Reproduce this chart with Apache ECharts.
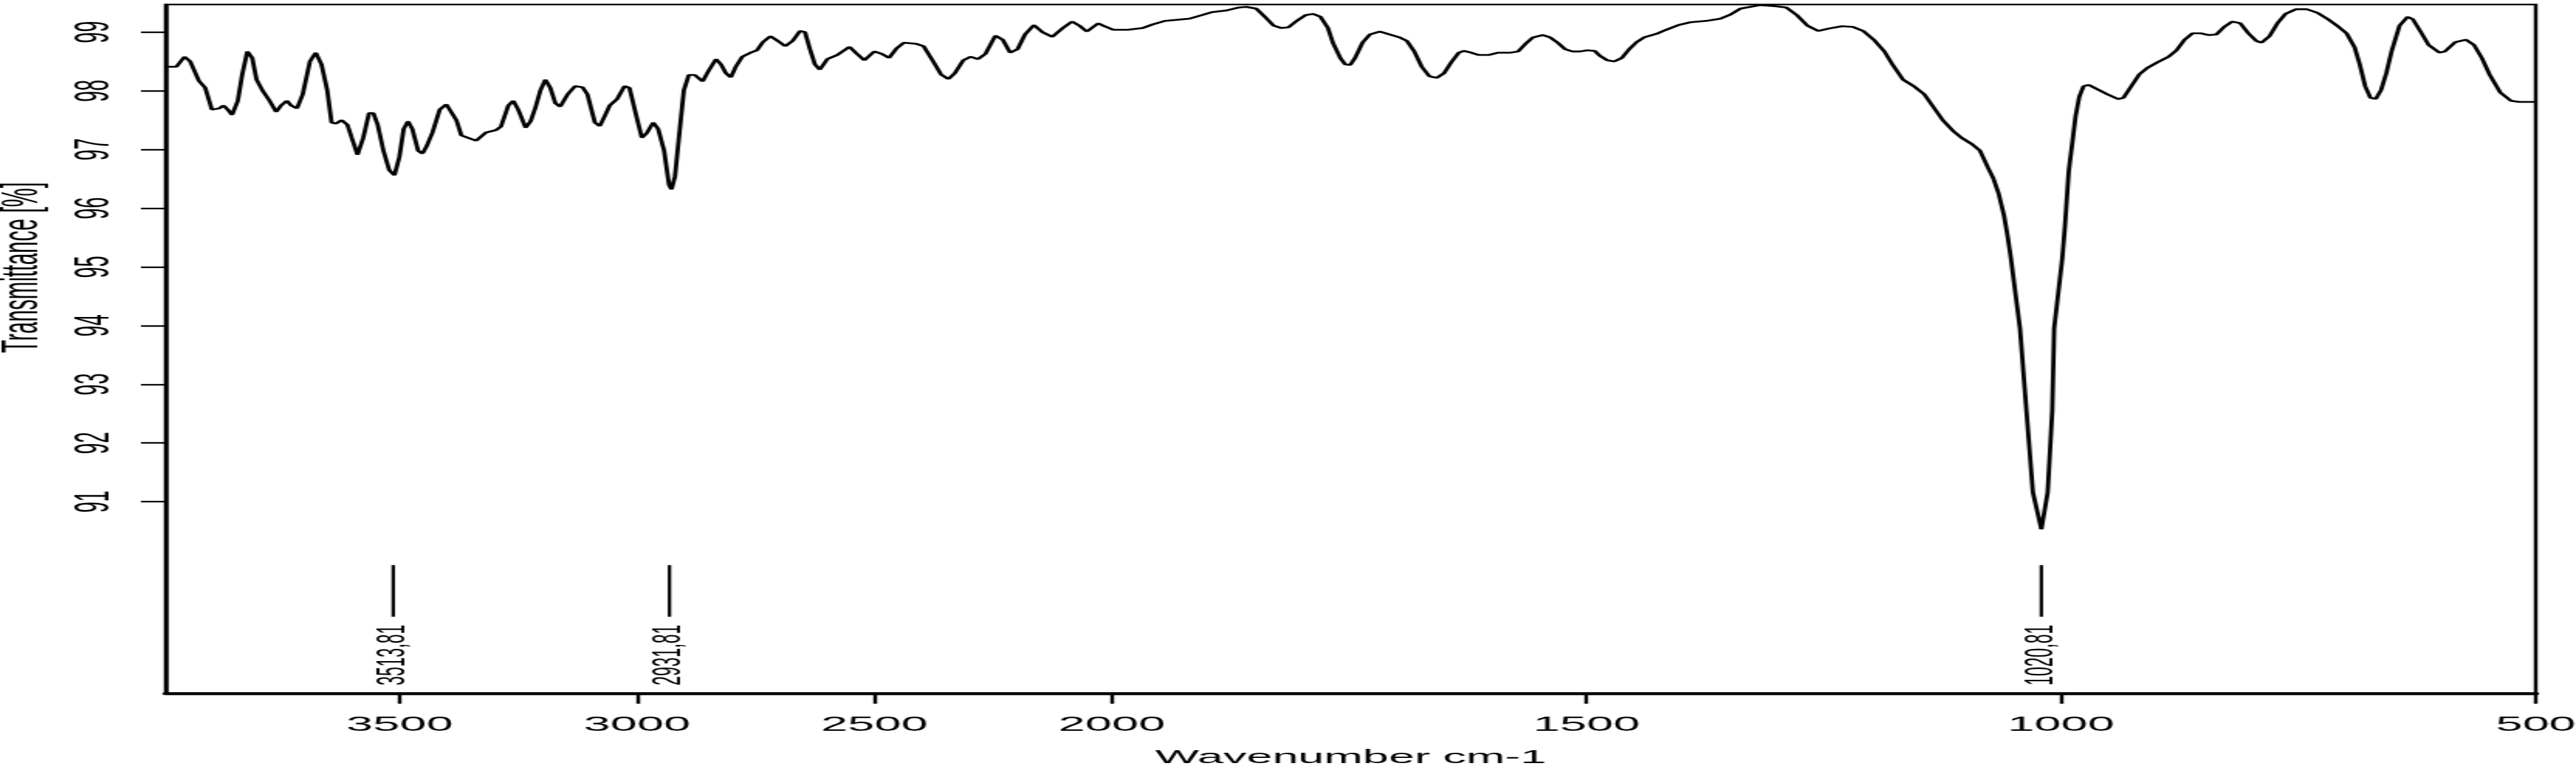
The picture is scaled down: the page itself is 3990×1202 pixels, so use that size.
<!DOCTYPE html>
<html>
<head>
<meta charset="utf-8">
<title>IR spectrum</title>
<script src="https://cdn.jsdelivr.net/npm/echarts@6/dist/echarts.min.js"></script>
<style>
  html, body { margin: 0; padding: 0; background: #fff; overflow: hidden; }
  #wrap { width: 3990px; height: 1202px; overflow: hidden; }
  /* the source figure is a sideways-stretched plot: draw it narrow, then stretch in x */
  #chart { width: 1663px; height: 1202px; transform: scaleX(2.39928); transform-origin: 0 0; }
</style>
</head>
<body>
<div id="wrap"><div id="chart"></div></div>
<script>
// wavenumber (cm-1), descending, and transmittance (%)
const wavenumber = [
  3993, 3970.6, 3953.6, 3941.5, 3923.2, 3909.9, 3895.9, 3880.6, 3871.5, 3862.4,
  3853.3, 3841.2, 3832.1, 3821.2, 3810.9, 3801.7, 3789.6, 3774.3, 3760.4, 3750.1,
  3737.9, 3728.8, 3716.6, 3704.5, 3689.3, 3677.1, 3665.0, 3652.8, 3643.7, 3634.5,
  3622.4, 3610.3, 3601.2, 3589.1, 3576.9, 3564.7, 3555.6, 3546.5, 3534.4, 3522.3,
  3511.3, 3500.9, 3491.8, 3482.7, 3473.6, 3461.4, 3452.3, 3443.2, 3431.1, 3415.8,
  3401.9, 3380.7, 3370.2, 3349.4, 3339.0, 3318.2, 3297.3, 3286.9, 3271.3, 3260.9,
  3250.5, 3234.8, 3224.5, 3214.0, 3203.6, 3193.2, 3182.8, 3172.3, 3162.0, 3146.3,
  3130.7, 3115.0, 3104.7, 3089.0, 3078.6, 3068.2, 3057.7, 3042.1, 3026.5, 3016.1,
  3000.4, 2990.1, 2979.6, 2966.1, 2955.6, 2943.1, 2932.8, 2927.6, 2920.2, 2911.9,
  2901.5, 2891.1, 2878.6, 2862.0, 2849.5, 2833.8, 2823.3, 2813.0, 2802.5, 2792.2,
  2778.5, 2760.9, 2747.4, 2734.9, 2719.2, 2703.6, 2687.9, 2672.4, 2656.7, 2646.3,
  2635.9, 2625.4, 2615.1, 2599.4, 2578.6, 2552.6, 2536.9, 2521.3, 2500.5, 2484.8,
  2469.2, 2453.7, 2438.0, 2411.9, 2396.4, 2375.4, 2359.9, 2344.2, 2330.7, 2312.9,
  2297.4, 2281.7, 2266.1, 2245.3, 2229.6, 2214.0, 2198.4, 2182.8, 2164.0, 2146.3,
  2125.5, 2104.7, 2083.8, 2068.2, 2052.5, 2028.6, 2018.1, 1998.6, 1983.1, 1967.4,
  1957.0, 1944.0, 1931.0, 1918.0, 1905.0, 1894.6, 1879.0, 1866.0, 1858.2, 1847.8,
  1837.4, 1829.5, 1821.7, 1814.0, 1806.1, 1795.7, 1787.9, 1780.1, 1772.3, 1767.1,
  1759.3, 1754.1, 1748.9, 1743.7, 1735.9, 1728.1, 1717.7, 1707.3, 1696.9, 1689.1,
  1681.3, 1673.5, 1665.6, 1657.8, 1650.0, 1642.2, 1634.4, 1629.2, 1621.4, 1613.6,
  1603.2, 1592.8, 1579.8, 1572.0, 1564.2, 1556.3, 1545.9, 1538.2, 1530.3, 1522.5,
  1514.7, 1506.9, 1499.1, 1491.3, 1486.1, 1478.1, 1470.5, 1462.7, 1454.9, 1447.1,
  1439.3, 1426.3, 1415.9, 1402.9, 1389.8, 1374.3, 1358.6, 1348.2, 1337.8, 1317.5,
  1300.8, 1289.6, 1278.4, 1267.2, 1256.0, 1244.8, 1230.8, 1219.6, 1208.5, 1197.3,
  1186.1, 1177.7, 1166.5, 1155.3, 1144.1, 1135.7, 1124.6, 1113.3, 1104.9, 1093.8,
  1085.4, 1077.0, 1071.4, 1065.8, 1060.2, 1056.3, 1052.9, 1043.3, 1036.5, 1029.7,
  1020.8, 1014.1, 1009.3, 1007.3, 998.7, 995.9, 992.0, 988.6, 984.7, 980.8,
  976.3, 970.7, 962.3, 951.2, 940.0, 934.4, 926.0, 917.6, 909.1, 898.0,
  886.8, 878.4, 870.0, 861.6, 853.2, 844.8, 836.4, 828.1, 819.6, 811.2,
  802.8, 794.4, 788.9, 780.5, 772.1, 763.6, 752.5, 741.2, 730.1, 718.9,
  707.7, 699.3, 690.8, 685.4, 679.7, 674.1, 668.6, 663.0, 657.4, 651.9,
  643.5, 635.0, 629.5, 621.0, 612.8, 601.5, 595.8, 584.7, 573.5, 565.0,
  556.8, 548.4, 537.3, 526.1, 517.6, 500
];
const transmittance = [
  98.41, 98.41, 98.58, 98.50, 98.17, 98.05, 97.68, 97.70, 97.75, 97.68,
  97.59, 97.83, 98.27, 98.67, 98.56, 98.19, 98.01, 97.83, 97.64, 97.75,
  97.83, 97.75, 97.70, 97.94, 98.50, 98.65, 98.45, 98.01, 97.46, 97.44,
  97.50, 97.42, 97.20, 96.91, 97.20, 97.62, 97.62, 97.42, 96.98, 96.65,
  96.56, 96.87, 97.35, 97.48, 97.35, 96.98, 96.93, 97.06, 97.29, 97.68,
  97.77, 97.50, 97.24, 97.18, 97.15, 97.29, 97.33, 97.39, 97.75, 97.83,
  97.68, 97.37, 97.48, 97.72, 98.01, 98.19, 98.05, 97.79, 97.73, 97.94,
  98.08, 98.06, 97.94, 97.46, 97.40, 97.57, 97.75, 97.86, 98.08, 98.05,
  97.53, 97.20, 97.28, 97.46, 97.35, 96.98, 96.40, 96.32, 96.54, 97.20,
  98.01, 98.27, 98.27, 98.16, 98.34, 98.54, 98.45, 98.30, 98.23, 98.41,
  98.58, 98.65, 98.69, 98.83, 98.93, 98.85, 98.76, 98.85, 99.02, 99.00,
  98.71, 98.45, 98.36, 98.54, 98.61, 98.75, 98.63, 98.52, 98.67, 98.63,
  98.56, 98.72, 98.82, 98.80, 98.76, 98.49, 98.28, 98.20, 98.30, 98.52,
  98.58, 98.54, 98.63, 98.94, 98.87, 98.65, 98.71, 98.96, 99.12, 99.00,
  98.92, 99.06, 99.18, 99.11, 99.01, 99.15, 99.11, 99.04, 99.04, 99.07,
  99.13, 99.19, 99.21, 99.23, 99.29, 99.34, 99.37, 99.42, 99.43, 99.40,
  99.24, 99.11, 99.07, 99.08, 99.18, 99.29, 99.31, 99.26, 99.07, 98.82,
  98.56, 98.45, 98.44, 98.56, 98.82, 98.96, 99.01, 98.96, 98.91, 98.85,
  98.67, 98.41, 98.25, 98.22, 98.30, 98.49, 98.65, 98.68, 98.65, 98.61,
  98.61, 98.65, 98.65, 98.67, 98.80, 98.91, 98.95, 98.91, 98.82, 98.71,
  98.67, 98.67, 98.69, 98.68, 98.60, 98.52, 98.50, 98.56, 98.71, 98.83,
  98.91, 98.97, 99.04, 99.12, 99.17, 99.19, 99.23, 99.30, 99.40, 99.46,
  99.44, 99.42, 99.29, 99.11, 99.02, 99.06, 99.10, 99.09, 99.02, 98.87,
  98.67, 98.45, 98.19, 98.08, 97.94, 97.75, 97.50, 97.31, 97.20, 97.09,
  96.98, 96.69, 96.51, 96.25, 95.88, 95.52, 95.15, 93.95, 92.55, 91.16,
  90.53, 91.16, 92.55, 93.95, 95.15, 95.70, 96.62, 97.06, 97.57, 97.90,
  98.08, 98.10, 98.03, 97.94, 97.86, 97.88, 98.08, 98.28, 98.39, 98.49,
  98.58, 98.69, 98.87, 98.98, 98.98, 98.95, 98.96, 99.09, 99.18, 99.15,
  98.98, 98.85, 98.82, 98.93, 99.15, 99.31, 99.39, 99.39, 99.33, 99.22,
  99.09, 98.98, 98.74, 98.45, 98.08, 97.88, 97.86, 98.01, 98.30, 98.67,
  99.11, 99.26, 99.22, 99.00, 98.78, 98.65, 98.67, 98.83, 98.87, 98.78,
  98.56, 98.27, 97.97, 97.83, 97.81, 97.81
];

// picked peaks
const peakWavenumbers = [3513.81, 2931.81, 1020.81];
const peakLabels = ['3513,81', '2931,81', '1020,81'];

// ticks
const xTicks = [3500, 3000, 2500, 2000, 1500, 1000, 500];
const yTicks = [91, 92, 93, 94, 95, 96, 97, 98, 99];

// the wavenumber scale is compressed 2x above 2000 cm-1, as IR software does
const BREAK = 2000;
const toAxis = w => w > BREAK ? (BREAK - w) / 2 : BREAK - w;
const fromAxis = v => v < 0 ? BREAK - 2 * v : BREAK - v;

const FONT = 'Liberation Sans, Arial, sans-serif';
const textStyle = { color: '#000', fontFamily: FONT, fontSize: 31 };

const spectrum = wavenumber.map((w, i) => [toAxis(w), transmittance[i]]);

let option = {
    animation: false,
    backgroundColor: '#fff',
    grid: {
        left: 107, right: 26, top: 7, bottom: 128,
        outerBoundsMode: 'none',
        show: true, borderColor: '#000', borderWidth: 2.4, backgroundColor: 'transparent'
    },
    xAxis: {
        type: 'value',
        min: toAxis(3993),
        max: toAxis(500),
        axisLine: { onZero: false, lineStyle: { color: '#000', width: 4.5 } },
        axisTick: { customValues: xTicks.map(toAxis), length: 16, lineStyle: { color: '#000', width: 2.4 } },
        axisLabel: {
            customValues: xTicks.map(toAxis),
            formatter: v => String(Math.round(fromAxis(v))),
            margin: 34, ...textStyle
        },
        splitLine: { show: false },
        name: 'Wavenumber cm-1',
        nameLocation: 'middle',
        nameGap: 85,
        nameTextStyle: { ...textStyle, fontSize: 30 }
    },
    yAxis: {
        type: 'value',
        min: 87.735,
        max: 99.47,
        axisLine: { show: true, onZero: false, lineStyle: { color: '#000', width: 2.6 } },
        axisTick: { show: true, customValues: yTicks, length: 16, lineStyle: { color: '#000', width: 2.4 } },
        axisLabel: { customValues: yTicks, rotate: 90, margin: 30, ...textStyle },
        splitLine: { show: false },
        name: 'Transmittance [%]',
        nameLocation: 'middle',
        nameRotate: 90,
        nameGap: 76,
        nameTextStyle: { ...textStyle, fontSize: 33, padding: [0, 0, 0, 252] }
    },
    series: [
        {
            name: 'spectrum',
            type: 'line',
            data: spectrum,
            symbol: 'none',
            lineStyle: { color: '#000', width: 2.8 },
            z: 3
        },
        {
            name: 'peaks',
            type: 'custom',
            data: peakWavenumbers.map(w => [toAxis(w), 89.04]),
            renderItem: function (params, api) {
                const x = api.value(0);
                const top = api.coord([x, 89.92]);
                const bottom = api.coord([x, 89.04]);
                const textAt = api.coord([x, 87.87]);
                return {
                    type: 'group',
                    children: [
                        {
                            type: 'line',
                            shape: { x1: top[0], y1: top[1], x2: bottom[0], y2: bottom[1] },
                            style: { stroke: '#000', lineWidth: 2.2 }
                        },
                        {
                            type: 'text',
                            x: textAt[0],
                            y: textAt[1],
                            rotation: Math.PI / 2,
                            style: {
                                text: peakLabels[params.dataIndex],
                                fill: '#000',
                                font: '26px ' + FONT,
                                align: 'left',
                                verticalAlign: 'middle'
                            }
                        }
                    ]
                };
            }
        }
    ]
};

let myChart = echarts.init(document.getElementById('chart'));
myChart.setOption(option);
</script>
</body>
</html>
